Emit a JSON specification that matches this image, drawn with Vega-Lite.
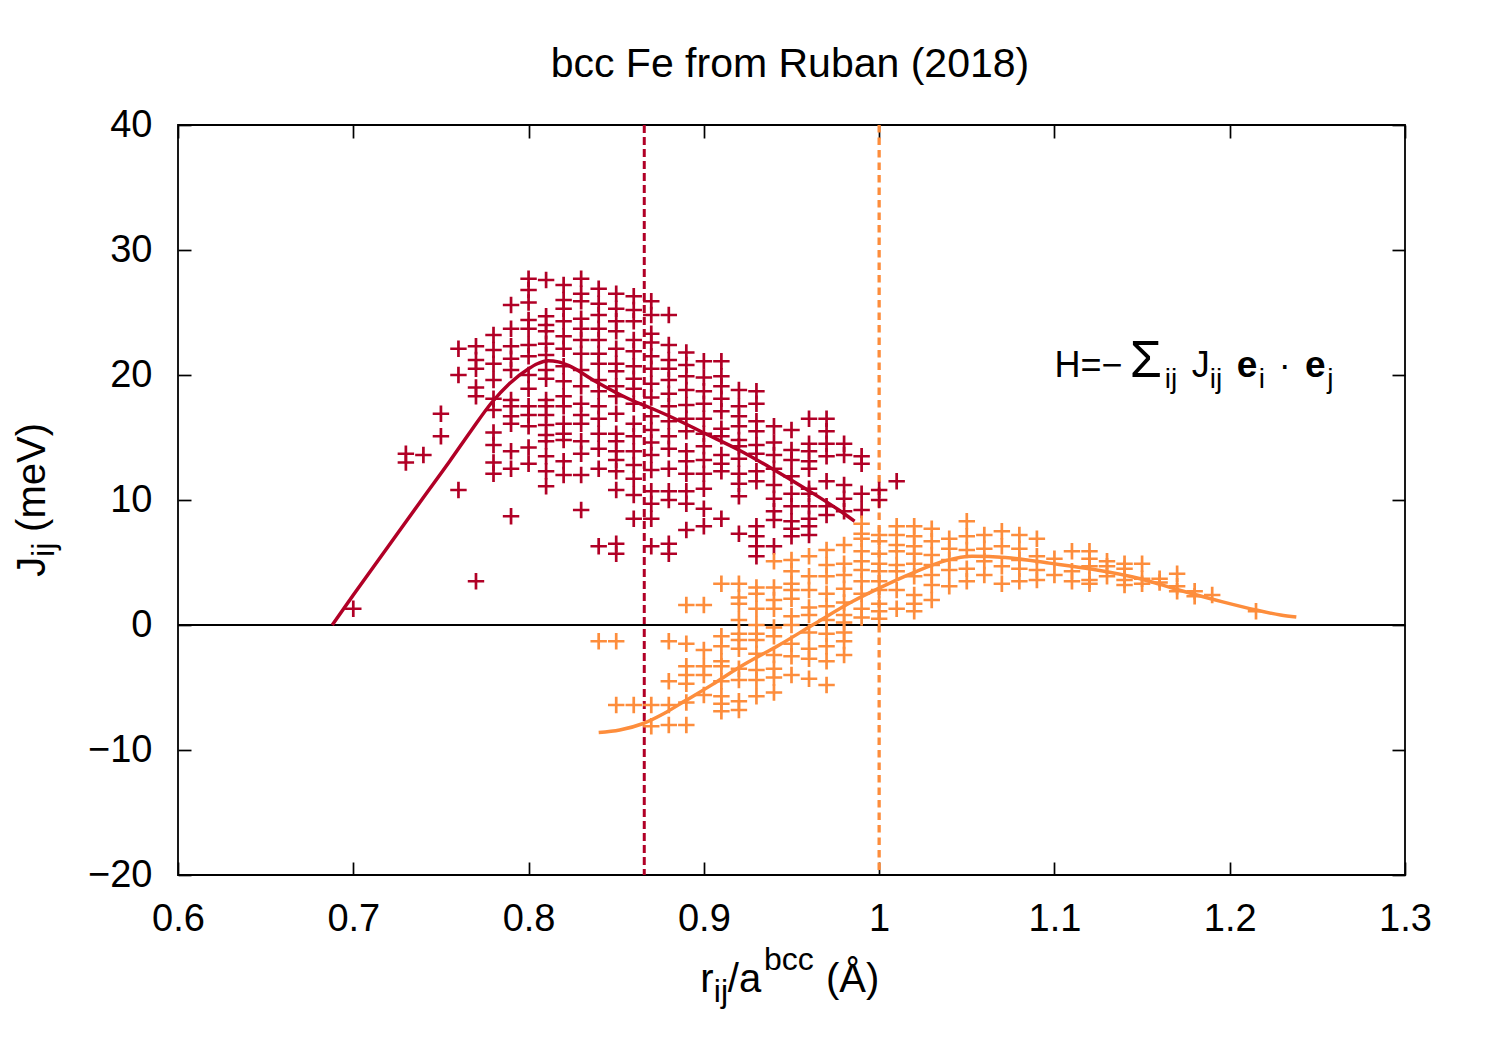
{
  "$schema": "https://vega.github.io/schema/vega-lite/v6.json",
  "width": 1227,
  "height": 750,
  "autosize": {"type": "none"},
  "padding": {"left": 178, "top": 125, "right": 95, "bottom": 175},
  "background": "white",
  "config": {"view": {"stroke": "black", "strokeWidth": 1.8}, "font": "Liberation Sans"},
  "datasets": {
    "p1": [
      {"r":0.70,"J":1.3},
      {"r":0.73,"J":13.7},{"r":0.73,"J":13.0},
      {"r":0.74,"J":13.6},
      {"r":0.75,"J":16.9},{"r":0.75,"J":15.1},
      {"r":0.76,"J":22.1},{"r":0.76,"J":20.0},{"r":0.76,"J":10.8},
      {"r":0.77,"J":22.3},{"r":0.77,"J":21.2},{"r":0.77,"J":20.5},{"r":0.77,"J":19.0},{"r":0.77,"J":18.3},{"r":0.77,"J":3.5},
      {"r":0.78,"J":23.2},{"r":0.78,"J":22.0},{"r":0.78,"J":20.9},{"r":0.78,"J":19.6},{"r":0.78,"J":18.1},{"r":0.78,"J":17.2},{"r":0.78,"J":15.4},{"r":0.78,"J":14.4},{"r":0.78,"J":13.0},{"r":0.78,"J":12.1},
      {"r":0.79,"J":25.6},{"r":0.79,"J":23.7},{"r":0.79,"J":22.3},{"r":0.79,"J":21.3},{"r":0.79,"J":20.4},{"r":0.79,"J":18.0},{"r":0.79,"J":17.5},{"r":0.79,"J":16.7},{"r":0.79,"J":16.1},{"r":0.79,"J":13.9},{"r":0.79,"J":12.5},{"r":0.79,"J":8.7},
      {"r":0.80,"J":27.7},{"r":0.80,"J":26.8},{"r":0.80,"J":25.8},{"r":0.80,"J":24.4},{"r":0.80,"J":23.7},{"r":0.80,"J":22.4},{"r":0.80,"J":21.5},{"r":0.80,"J":20.0},{"r":0.80,"J":18.9},{"r":0.80,"J":17.5},{"r":0.80,"J":16.8},{"r":0.80,"J":15.9},{"r":0.80,"J":14.2},{"r":0.80,"J":12.9},
      {"r":0.81,"J":27.6},{"r":0.81,"J":24.7},{"r":0.81,"J":24.0},{"r":0.81,"J":23.5},{"r":0.81,"J":22.5},{"r":0.81,"J":21.6},{"r":0.81,"J":20.4},{"r":0.81,"J":19.7},{"r":0.81,"J":18.0},{"r":0.81,"J":17.5},{"r":0.81,"J":16.8},{"r":0.81,"J":16.0},{"r":0.81,"J":15.2},{"r":0.81,"J":14.7},{"r":0.81,"J":13.5},{"r":0.81,"J":12.3},{"r":0.81,"J":11.1},
      {"r":0.82,"J":27.2},{"r":0.82,"J":26.0},{"r":0.82,"J":25.3},{"r":0.82,"J":24.3},{"r":0.82,"J":23.1},{"r":0.82,"J":22.1},{"r":0.82,"J":20.7},{"r":0.82,"J":19.5},{"r":0.82,"J":18.3},{"r":0.82,"J":17.5},{"r":0.82,"J":16.1},{"r":0.82,"J":15.3},{"r":0.82,"J":14.8},{"r":0.82,"J":13.1},{"r":0.82,"J":12.0},
      {"r":0.83,"J":27.7},{"r":0.83,"J":26.5},{"r":0.83,"J":25.9},{"r":0.83,"J":24.5},{"r":0.83,"J":23.7},{"r":0.83,"J":22.8},{"r":0.83,"J":21.7},{"r":0.83,"J":20.4},{"r":0.83,"J":19.1},{"r":0.83,"J":17.7},{"r":0.83,"J":16.8},{"r":0.83,"J":16.1},{"r":0.83,"J":14.7},{"r":0.83,"J":13.7},{"r":0.83,"J":12.0},{"r":0.83,"J":9.2},
      {"r":0.84,"J":26.9},{"r":0.84,"J":25.7},{"r":0.84,"J":24.8},{"r":0.84,"J":23.7},{"r":0.84,"J":22.8},{"r":0.84,"J":21.7},{"r":0.84,"J":20.9},{"r":0.84,"J":19.6},{"r":0.84,"J":18.7},{"r":0.84,"J":17.5},{"r":0.84,"J":16.5},{"r":0.84,"J":15.3},{"r":0.84,"J":14.1},{"r":0.84,"J":12.5},{"r":0.84,"J":6.3},
      {"r":0.85,"J":26.5},{"r":0.85,"J":25.3},{"r":0.85,"J":24.3},{"r":0.85,"J":23.5},{"r":0.85,"J":22.1},{"r":0.85,"J":20.9},{"r":0.85,"J":20.3},{"r":0.85,"J":19.1},{"r":0.85,"J":18.3},{"r":0.85,"J":16.9},{"r":0.85,"J":15.3},{"r":0.85,"J":14.7},{"r":0.85,"J":13.9},{"r":0.85,"J":13.2},{"r":0.85,"J":12.3},{"r":0.85,"J":10.8},{"r":0.85,"J":6.5},{"r":0.85,"J":5.7},
      {"r":0.86,"J":26.3},{"r":0.86,"J":25.2},{"r":0.86,"J":24.3},{"r":0.86,"J":22.8},{"r":0.86,"J":21.9},{"r":0.86,"J":20.7},{"r":0.86,"J":19.7},{"r":0.86,"J":18.9},{"r":0.86,"J":17.7},{"r":0.86,"J":16.1},{"r":0.86,"J":15.1},{"r":0.86,"J":13.9},{"r":0.86,"J":12.8},{"r":0.86,"J":11.7},{"r":0.86,"J":10.4},{"r":0.86,"J":8.5},
      {"r":0.87,"J":25.9},{"r":0.87,"J":24.8},{"r":0.87,"J":23.3},{"r":0.87,"J":22.6},{"r":0.87,"J":21.5},{"r":0.87,"J":20.5},{"r":0.87,"J":19.3},{"r":0.87,"J":18.2},{"r":0.87,"J":16.7},{"r":0.87,"J":15.6},{"r":0.87,"J":14.6},{"r":0.87,"J":13.6},{"r":0.87,"J":12.4},{"r":0.87,"J":10.7},{"r":0.87,"J":9.7},{"r":0.87,"J":8.5},{"r":0.87,"J":6.3},
      {"r":0.88,"J":24.8},{"r":0.88,"J":22.4},{"r":0.88,"J":21.2},{"r":0.88,"J":20.5},{"r":0.88,"J":19.6},{"r":0.88,"J":18.5},{"r":0.88,"J":17.5},{"r":0.88,"J":16.3},{"r":0.88,"J":15.1},{"r":0.88,"J":14.1},{"r":0.88,"J":12.5},{"r":0.88,"J":10.7},{"r":0.88,"J":10.0},{"r":0.88,"J":6.5},{"r":0.88,"J":5.7},
      {"r":0.89,"J":21.8},{"r":0.89,"J":20.8},{"r":0.89,"J":19.9},{"r":0.89,"J":18.8},{"r":0.89,"J":17.6},{"r":0.89,"J":16.5},{"r":0.89,"J":15.5},{"r":0.89,"J":13.9},{"r":0.89,"J":13.1},{"r":0.89,"J":12.1},{"r":0.89,"J":10.7},{"r":0.89,"J":9.7},{"r":0.89,"J":7.6},
      {"r":0.90,"J":21.1},{"r":0.90,"J":19.8},{"r":0.90,"J":18.7},{"r":0.90,"J":17.7},{"r":0.90,"J":16.5},{"r":0.90,"J":15.3},{"r":0.90,"J":14.3},{"r":0.90,"J":13.2},{"r":0.90,"J":12.1},{"r":0.90,"J":10.9},{"r":0.90,"J":9.3},{"r":0.90,"J":7.9},
      {"r":0.91,"J":21.1},{"r":0.91,"J":19.9},{"r":0.91,"J":19.1},{"r":0.91,"J":18.1},{"r":0.91,"J":17.1},{"r":0.91,"J":15.7},{"r":0.91,"J":15.1},{"r":0.91,"J":13.6},{"r":0.91,"J":12.9},{"r":0.91,"J":12.3},{"r":0.91,"J":8.5},
      {"r":0.92,"J":18.8},{"r":0.92,"J":17.5},{"r":0.92,"J":16.7},{"r":0.92,"J":15.9},{"r":0.92,"J":14.8},{"r":0.92,"J":14.3},{"r":0.92,"J":13.3},{"r":0.92,"J":12.1},{"r":0.92,"J":11.3},{"r":0.92,"J":10.3},{"r":0.92,"J":7.3},
      {"r":0.93,"J":18.7},{"r":0.93,"J":17.7},{"r":0.93,"J":16.3},{"r":0.93,"J":15.5},{"r":0.93,"J":14.4},{"r":0.93,"J":13.7},{"r":0.93,"J":12.3},{"r":0.93,"J":11.5},{"r":0.93,"J":7.9},{"r":0.93,"J":7.1},{"r":0.93,"J":6.3},{"r":0.93,"J":5.5},
      {"r":0.94,"J":15.9},{"r":0.94,"J":14.6},{"r":0.94,"J":13.6},{"r":0.94,"J":12.5},{"r":0.94,"J":11.2},{"r":0.94,"J":10.1},{"r":0.94,"J":9.1},{"r":0.94,"J":8.4},{"r":0.94,"J":6.3},
      {"r":0.95,"J":15.6},{"r":0.95,"J":14.0},{"r":0.95,"J":13.2},{"r":0.95,"J":11.9},{"r":0.95,"J":10.5},{"r":0.95,"J":9.5},{"r":0.95,"J":8.3},{"r":0.95,"J":7.7},{"r":0.95,"J":7.1},
      {"r":0.96,"J":16.5},{"r":0.96,"J":14.5},{"r":0.96,"J":13.9},{"r":0.96,"J":13.1},{"r":0.96,"J":12.5},{"r":0.96,"J":10.9},{"r":0.96,"J":10.5},{"r":0.96,"J":9.5},{"r":0.96,"J":8.5},{"r":0.96,"J":7.9},{"r":0.96,"J":7.2},
      {"r":0.97,"J":16.5},{"r":0.97,"J":15.5},{"r":0.97,"J":14.5},{"r":0.97,"J":13.5},{"r":0.97,"J":11.5},{"r":0.97,"J":9.5},{"r":0.97,"J":8.8},
      {"r":0.98,"J":14.5},{"r":0.98,"J":13.6},{"r":0.98,"J":11.2},{"r":0.98,"J":10.1},{"r":0.98,"J":9.1},
      {"r":0.99,"J":13.5},{"r":0.99,"J":12.9},{"r":0.99,"J":10.5},{"r":0.99,"J":9.2},
      {"r":1.00,"J":10.8},{"r":1.00,"J":10.0},
      {"r":1.01,"J":11.5}
    ],
    "p2": [
      {"r":0.84,"J":-1.3},
      {"r":0.85,"J":-1.3},{"r":0.85,"J":-6.4},
      {"r":0.86,"J":-6.4},
      {"r":0.87,"J":-6.4},{"r":0.87,"J":-8.1},
      {"r":0.88,"J":-1.3},{"r":0.88,"J":-4.5},{"r":0.88,"J":-6.4},{"r":0.88,"J":-8.0},
      {"r":0.89,"J":1.6},{"r":0.89,"J":-1.5},{"r":0.89,"J":-3.3},{"r":0.89,"J":-4.0},{"r":0.89,"J":-4.7},{"r":0.89,"J":-6.2},{"r":0.89,"J":-8.0},
      {"r":0.90,"J":1.6},{"r":0.90,"J":-2.0},{"r":0.90,"J":-3.3},{"r":0.90,"J":-4.0},{"r":0.90,"J":-5.6},
      {"r":0.91,"J":3.3},{"r":0.91,"J":-0.9},{"r":0.91,"J":-1.7},{"r":0.91,"J":-2.9},{"r":0.91,"J":-3.3},{"r":0.91,"J":-4.5},{"r":0.91,"J":-5.7},{"r":0.91,"J":-6.3},{"r":0.91,"J":-6.9},
      {"r":0.92,"J":3.3},{"r":0.92,"J":2.2},{"r":0.92,"J":1.7},{"r":0.92,"J":0.4},{"r":0.92,"J":-0.7},{"r":0.92,"J":-1.2},{"r":0.92,"J":-1.9},{"r":0.92,"J":-3.5},{"r":0.92,"J":-4.4},{"r":0.92,"J":-6.1},{"r":0.92,"J":-6.8},
      {"r":0.93,"J":3.0},{"r":0.93,"J":2.5},{"r":0.93,"J":1.3},{"r":0.93,"J":0.0},{"r":0.93,"J":-0.7},{"r":0.93,"J":-1.2},{"r":0.93,"J":-2.3},{"r":0.93,"J":-3.6},{"r":0.93,"J":-4.4},{"r":0.93,"J":-5.7},
      {"r":0.94,"J":5.1},{"r":0.94,"J":3.0},{"r":0.94,"J":2.0},{"r":0.94,"J":1.3},{"r":0.94,"J":-0.2},{"r":0.94,"J":-0.9},{"r":0.94,"J":-2.4},{"r":0.94,"J":-3.5},{"r":0.94,"J":-4.2},{"r":0.94,"J":-5.4},
      {"r":0.95,"J":5.2},{"r":0.95,"J":4.3},{"r":0.95,"J":3.3},{"r":0.95,"J":2.8},{"r":0.95,"J":2.1},{"r":0.95,"J":0.7},{"r":0.95,"J":0.0},{"r":0.95,"J":-1.5},{"r":0.95,"J":-2.5},{"r":0.95,"J":-4.0},
      {"r":0.96,"J":5.5},{"r":0.96,"J":3.9},{"r":0.96,"J":2.8},{"r":0.96,"J":1.4},{"r":0.96,"J":0.8},{"r":0.96,"J":-0.6},{"r":0.96,"J":-1.9},{"r":0.96,"J":-2.7},{"r":0.96,"J":-4.3},
      {"r":0.97,"J":6.0},{"r":0.97,"J":4.8},{"r":0.97,"J":3.9},{"r":0.97,"J":2.5},{"r":0.97,"J":1.5},{"r":0.97,"J":0.4},{"r":0.97,"J":-0.7},{"r":0.97,"J":-1.7},{"r":0.97,"J":-2.9},{"r":0.97,"J":-4.8},
      {"r":0.98,"J":6.4},{"r":0.98,"J":4.9},{"r":0.98,"J":4.0},{"r":0.98,"J":2.9},{"r":0.98,"J":1.8},{"r":0.98,"J":0.8},{"r":0.98,"J":0.2},{"r":0.98,"J":-0.6},{"r":0.98,"J":-1.3},{"r":0.98,"J":-2.4},
      {"r":0.99,"J":8.1},{"r":0.99,"J":7.3},{"r":0.99,"J":6.9},{"r":0.99,"J":5.9},{"r":0.99,"J":5.1},{"r":0.99,"J":4.4},{"r":0.99,"J":3.5},{"r":0.99,"J":2.5},{"r":0.99,"J":1.3},{"r":0.99,"J":0.6},
      {"r":1.00,"J":7.2},{"r":1.00,"J":6.7},{"r":1.00,"J":5.7},{"r":1.00,"J":4.9},{"r":1.00,"J":4.3},{"r":1.00,"J":3.5},{"r":1.00,"J":2.8},{"r":1.00,"J":1.7},{"r":1.00,"J":1.1},{"r":1.00,"J":0.5},
      {"r":1.01,"J":7.9},{"r":1.01,"J":7.2},{"r":1.01,"J":6.4},{"r":1.01,"J":5.9},{"r":1.01,"J":4.8},{"r":1.01,"J":4.3},{"r":1.01,"J":2.8},{"r":1.01,"J":1.3},
      {"r":1.02,"J":7.9},{"r":1.02,"J":7.1},{"r":1.02,"J":6.3},{"r":1.02,"J":5.7},{"r":1.02,"J":4.9},{"r":1.02,"J":3.9},{"r":1.02,"J":2.4},{"r":1.02,"J":1.7},{"r":1.02,"J":1.1},
      {"r":1.03,"J":7.7},{"r":1.03,"J":6.7},{"r":1.03,"J":5.6},{"r":1.03,"J":4.8},{"r":1.03,"J":4.0},{"r":1.03,"J":3.2},{"r":1.03,"J":2.0},
      {"r":1.04,"J":6.9},{"r":1.04,"J":6.1},{"r":1.04,"J":5.2},{"r":1.04,"J":4.4},{"r":1.04,"J":3.1},
      {"r":1.05,"J":8.3},{"r":1.05,"J":7.1},{"r":1.05,"J":6.0},{"r":1.05,"J":4.5},{"r":1.05,"J":3.5},
      {"r":1.06,"J":7.2},{"r":1.06,"J":6.1},{"r":1.06,"J":5.1},{"r":1.06,"J":4.0},
      {"r":1.07,"J":7.5},{"r":1.07,"J":6.3},{"r":1.07,"J":4.7},{"r":1.07,"J":3.3},
      {"r":1.08,"J":7.2},{"r":1.08,"J":6.1},{"r":1.08,"J":5.2},{"r":1.08,"J":4.5},{"r":1.08,"J":3.5},
      {"r":1.09,"J":6.9},{"r":1.09,"J":5.5},{"r":1.09,"J":4.4},{"r":1.09,"J":3.6},
      {"r":1.10,"J":5.3},{"r":1.10,"J":4.0},
      {"r":1.11,"J":5.9},{"r":1.11,"J":4.3},{"r":1.11,"J":3.5},
      {"r":1.12,"J":5.9},{"r":1.12,"J":5.3},{"r":1.12,"J":4.7},{"r":1.12,"J":3.6},{"r":1.12,"J":3.3},
      {"r":1.13,"J":5.1},{"r":1.13,"J":4.7},{"r":1.13,"J":3.9},
      {"r":1.14,"J":4.9},{"r":1.14,"J":4.5},{"r":1.14,"J":3.6},{"r":1.14,"J":3.2},
      {"r":1.15,"J":4.9},{"r":1.15,"J":3.7},{"r":1.15,"J":3.3},
      {"r":1.16,"J":3.7},{"r":1.16,"J":3.4},
      {"r":1.17,"J":4.1},{"r":1.17,"J":3.1},{"r":1.17,"J":2.7},
      {"r":1.18,"J":2.7},{"r":1.18,"J":2.3},
      {"r":1.19,"J":2.4},
      {"r":1.215,"J":1.1}
    ],
    "f1": [
      {"r":0.688,"J":0.0},{"r":0.70,"J":2.4},{"r":0.72,"J":6.3},{"r":0.74,"J":10.2},{"r":0.755,"J":13.1},{"r":0.767,"J":15.5},{"r":0.779,"J":17.8},{"r":0.789,"J":19.3},{"r":0.80,"J":20.5},{"r":0.805,"J":20.9},{"r":0.811,"J":21.15},{"r":0.817,"J":21.05},{"r":0.823,"J":20.75},{"r":0.838,"J":19.5},{"r":0.857,"J":18.1},{"r":0.869,"J":17.4},{"r":0.882,"J":16.6},{"r":0.901,"J":15.3},{"r":0.92,"J":14.0},{"r":0.939,"J":12.5},{"r":0.958,"J":10.9},{"r":0.977,"J":9.2},{"r":0.986,"J":8.3}
    ],
    "f2": [
      {"r":0.84,"J":-8.6},{"r":0.852,"J":-8.4},{"r":0.865,"J":-7.9},{"r":0.877,"J":-7.1},{"r":0.8895,"J":-6.05},{"r":0.905,"J":-4.75},{"r":0.92,"J":-3.4},{"r":0.943,"J":-1.6},{"r":0.962,"J":0.0},{"r":0.985,"J":1.9},{"r":1.0,"J":2.95},{"r":1.019,"J":4.15},{"r":1.038,"J":5.15},{"r":1.053,"J":5.5},{"r":1.072,"J":5.4},{"r":1.097,"J":4.95},{"r":1.12,"J":4.5},{"r":1.149,"J":3.7},{"r":1.171,"J":2.8},{"r":1.196,"J":1.85},{"r":1.215,"J":1.2},{"r":1.229,"J":0.8},{"r":1.238,"J":0.64}
    ]
  },
  "resolve": {"axis": {"x": "independent", "y": "independent"}},
  "layer": [
    {
      "data": {"values": [{"r": 0.866}]},
      "mark": {"type": "rule", "color": "#b10026", "strokeWidth": 3, "strokeDash": [8, 4]},
      "encoding": {"x": {"field": "r", "type": "quantitative", "axis": null, "scale": {"domain": [0.6, 1.3], "nice": false, "zero": false}}}
    },
    {
      "data": {"values": [{"r": 1.0}]},
      "mark": {"type": "rule", "color": "#fd8d3c", "strokeWidth": 3.3, "strokeDash": [7.5, 5]},
      "encoding": {"x": {"field": "r", "type": "quantitative", "axis": null}}
    },
    {
      "data": {"values": [{"J": 0}]},
      "mark": {"type": "rule", "color": "black", "strokeWidth": 2},
      "encoding": {"y": {"field": "J", "type": "quantitative", "axis": null, "scale": {"domain": [-20, 40], "nice": false, "zero": false}}}
    },
    {
      "data": {"name": "p1"},
      "mark": {"type": "point", "shape": "M-1,0H1M0,-1V1", "filled": false, "size": 270, "strokeWidth": 2.7, "opacity": 1, "color": "#b10026"},
      "encoding": {
        "x": {"field": "r", "type": "quantitative", "axis": {"orient": "bottom", "values": [0.6, 0.7, 0.8, 0.9, 1, 1.1, 1.2, 1.3], "format": "~g", "title": null, "domain": false, "grid": false, "tickSize": -13, "tickWidth": 1.7, "tickColor": "black", "labelFont": "Liberation Sans", "labelFontSize": 38, "labelColor": "black", "labelPadding": 38, "labelFlush": false, "labelOverlap": false}},
        "y": {"field": "J", "type": "quantitative", "axis": {"orient": "left", "values": [-20, -10, 0, 10, 20, 30, 40], "title": null, "domain": false, "grid": false, "tickSize": -13, "tickWidth": 1.7, "tickColor": "black", "labelFont": "Liberation Sans", "labelFontSize": 38, "labelColor": "black", "labelPadding": 39, "labelFlush": false, "labelOverlap": false}}
      }
    },
    {
      "data": {"name": "p2"},
      "mark": {"type": "point", "shape": "M-1,0H1M0,-1V1", "filled": false, "size": 270, "strokeWidth": 2.7, "opacity": 1, "color": "#fd8d3c"},
      "encoding": {
        "x": {"field": "r", "type": "quantitative", "axis": {"orient": "top", "values": [0.6, 0.7, 0.8, 0.9, 1, 1.1, 1.2, 1.3], "labels": false, "title": null, "domain": false, "grid": false, "tickSize": -13, "tickWidth": 1.7, "tickColor": "black"}},
        "y": {"field": "J", "type": "quantitative", "axis": {"orient": "right", "values": [-20, -10, 0, 10, 20, 30, 40], "labels": false, "title": null, "domain": false, "grid": false, "tickSize": -13, "tickWidth": 1.7, "tickColor": "black"}}
      }
    },
    {
      "data": {"name": "f1"},
      "mark": {"type": "line", "color": "#b10026", "strokeWidth": 3.5, "interpolate": "monotone"},
      "encoding": {"x": {"field": "r", "type": "quantitative", "axis": null}, "y": {"field": "J", "type": "quantitative", "axis": null}}
    },
    {
      "data": {"name": "f2"},
      "mark": {"type": "line", "color": "#fd8d3c", "strokeWidth": 3.5, "interpolate": "monotone"},
      "encoding": {"x": {"field": "r", "type": "quantitative", "axis": null}, "y": {"field": "J", "type": "quantitative", "axis": null}}
    },
    {
      "data": {"values": [{"r": 0.9491, "J": 43.84, "t": "bcc Fe from Ruban (2018)"}]},
      "mark": {"type": "text", "font": "Liberation Sans", "fontSize": 41, "align": "center", "baseline": "alphabetic", "color": "black"},
      "encoding": {"x": {"field": "r", "type": "quantitative", "axis": null}, "y": {"field": "J", "type": "quantitative", "axis": null}, "text": {"field": "t"}}
    },
    {
      "data": {"values": [{"r": 1.1, "J": 19.87, "t": "H=−"}, {"r": 1.1783, "J": 19.87, "t": "J"}, {"r": 1.228, "J": 19.87, "t": "·"}]},
      "mark": {"type": "text", "font": "Liberation Sans", "fontSize": 36, "align": "left", "baseline": "alphabetic", "color": "black"},
      "encoding": {"x": {"field": "r", "type": "quantitative", "axis": null}, "y": {"field": "J", "type": "quantitative", "axis": null}, "text": {"field": "t"}}
    },
    {
      "data": {"values": [{"r": 1.1429, "J": 19.87, "t": "Σ"}]},
      "mark": {"type": "text", "font": "Liberation Sans", "fontSize": 52, "align": "left", "baseline": "alphabetic", "color": "black"},
      "encoding": {"x": {"field": "r", "type": "quantitative", "axis": null}, "y": {"field": "J", "type": "quantitative", "axis": null}, "text": {"field": "t"}}
    },
    {
      "data": {"values": [{"r": 1.204, "J": 19.87, "t": "e"}, {"r": 1.2429, "J": 19.87, "t": "e"}]},
      "mark": {"type": "text", "font": "Liberation Sans", "fontSize": 37, "fontWeight": "bold", "align": "left", "baseline": "alphabetic", "color": "black"},
      "encoding": {"x": {"field": "r", "type": "quantitative", "axis": null}, "y": {"field": "J", "type": "quantitative", "axis": null}, "text": {"field": "t"}}
    },
    {
      "data": {"values": [{"r": 1.1629, "J": 18.93, "t": "ij"}, {"r": 1.1886, "J": 18.93, "t": "ij"}, {"r": 1.2166, "J": 18.93, "t": "i"}, {"r": 1.2557, "J": 18.93, "t": "j"}]},
      "mark": {"type": "text", "font": "Liberation Sans", "fontSize": 28, "align": "left", "baseline": "alphabetic", "color": "black"},
      "encoding": {"x": {"field": "r", "type": "quantitative", "axis": null}, "y": {"field": "J", "type": "quantitative", "axis": null}, "text": {"field": "t"}}
    },
    {
      "data": {"values": [{"r": 0.898, "J": -29.34, "t": "r"}, {"r": 0.9137, "J": -29.34, "t": "/a"}, {"r": 0.9697, "J": -29.34, "t": "(Å)"}]},
      "mark": {"type": "text", "font": "Liberation Sans", "fontSize": 40, "align": "left", "baseline": "alphabetic", "color": "black"},
      "encoding": {"x": {"field": "r", "type": "quantitative", "axis": null}, "y": {"field": "J", "type": "quantitative", "axis": null}, "text": {"field": "t"}}
    },
    {
      "data": {"values": [{"r": 0.9057, "J": -30.14, "t": "ij"}, {"r": 0.9343, "J": -27.6, "t": "bcc"}]},
      "mark": {"type": "text", "font": "Liberation Sans", "fontSize": 32, "align": "left", "baseline": "alphabetic", "color": "black"},
      "encoding": {"x": {"field": "r", "type": "quantitative", "axis": null}, "y": {"field": "J", "type": "quantitative", "axis": null}, "text": {"field": "t"}}
    },
    {
      "data": {"values": [{"r": 0.524, "J": 3.87, "t": "J"}, {"r": 0.524, "J": 7.45, "t": "(meV)"}]},
      "mark": {"type": "text", "font": "Liberation Sans", "fontSize": 40, "angle": 270, "align": "left", "baseline": "alphabetic", "color": "black"},
      "encoding": {"x": {"field": "r", "type": "quantitative", "axis": null}, "y": {"field": "J", "type": "quantitative", "axis": null}, "text": {"field": "t"}}
    },
    {
      "data": {"values": [{"r": 0.5291, "J": 5.45, "t": "ij"}]},
      "mark": {"type": "text", "font": "Liberation Sans", "fontSize": 32, "angle": 270, "align": "left", "baseline": "alphabetic", "color": "black"},
      "encoding": {"x": {"field": "r", "type": "quantitative", "axis": null}, "y": {"field": "J", "type": "quantitative", "axis": null}, "text": {"field": "t"}}
    }
  ]
}
